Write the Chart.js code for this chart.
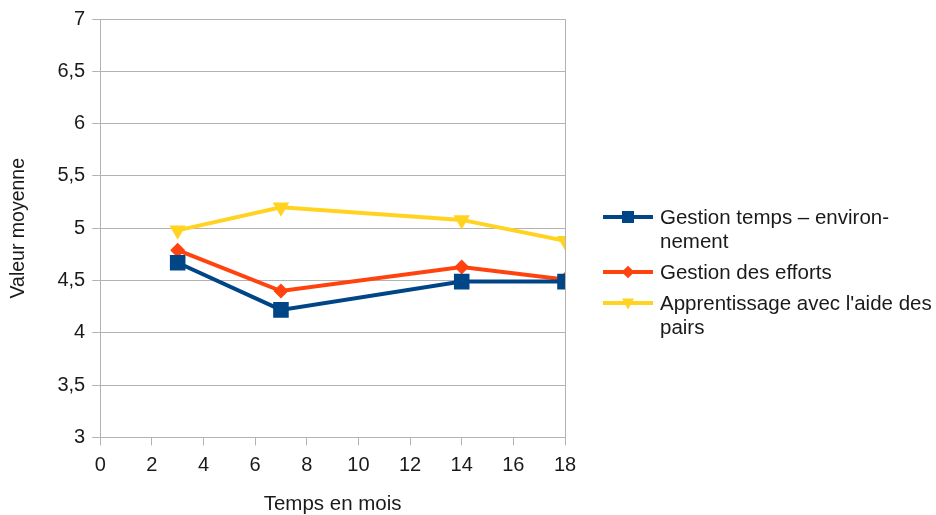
<!DOCTYPE html>
<html lang="fr">
<head>
<meta charset="utf-8">
<script src="https://cdn.jsdelivr.net/npm/chart.js@4/dist/chart.umd.min.js"></script>
<style>
  html, body { margin: 0; padding: 0; background: #fff; }
  #wrap { position: relative; width: 936px; height: 515px; }
  #legende { position: absolute; left: 603px; top: 205px; font-family: "Liberation Sans", Arial, sans-serif; font-size: 20.5px; color: #1a1a1a; }
  .item { display: flex; align-items: flex-start; margin-bottom: 7px; line-height: 24px; }
  .cle { position: relative; width: 50px; height: 24px; flex: none; margin-right: 7px; }
  .cle .trait { position: absolute; left: 0; right: 0; top: 10px; height: 4px; }
  .cle .marque { position: absolute; left: 25px; top: 12px; transform: translate(-50%, -50%); }
  .texte { white-space: nowrap; }
</style>
</head>
<body>
<div id="wrap">
  <canvas id="graphique" width="936" height="515"></canvas>
  <div id="legende"></div>
</div>
<script>
// ================= DONNÉES =================
const mois = [3, 7, 14, 18];
const series = [
  "Gestion temps – environ-nement",
  "Gestion des efforts",
  "Apprentissage avec l'aide des pairs"
];
// coupures de ligne de la légende (comme dans l'original)
const seriesLignes = [
  ["Gestion temps – environ-", "nement"],
  ["Gestion des efforts"],
  ["Apprentissage avec l'aide des", "pairs"]
];
const tempsEnvironnement = [4.67, 4.22, 4.49, 4.49];
const gestionEfforts = [4.79, 4.40, 4.63, 4.51];
const aidePairs = [4.98, 5.20, 5.08, 4.88];

const couleurs = ["#004586", "#ff420e", "#ffd320"];
const valeurs = [tempsEnvironnement, gestionEfforts, aidePairs];

const GRILLE = "#b3b3b3";
const TEXTE = "#1a1a1a";
const POLICE = "'Liberation Sans', Arial, sans-serif";

// ================= DATASETS =================
const styles = [
  { pointStyle: "rect", pointRadius: 11, rotation: 0 },
  { pointStyle: "rectRot", pointRadius: 7.5, rotation: 0 },
  { pointStyle: "triangle", pointRadius: 9.5, rotation: 180 }
];

const datasets = series.map((nom, i) => ({
  label: nom,
  data: mois.map((m, j) => ({ x: m, y: valeurs[i][j] })),
  borderColor: couleurs[i],
  backgroundColor: couleurs[i],
  borderWidth: 4,
  pointStyle: styles[i].pointStyle,
  pointRadius: styles[i].pointRadius,
  pointRotation: styles[i].rotation,
  pointBorderWidth: 0,
  pointHoverRadius: styles[i].pointRadius,
  tension: 0
}));

const formatFr = v => String(v).replace(".", ",");

new Chart(document.getElementById("graphique"), {
  type: "line",
  data: { datasets },
  options: {
    responsive: false,
    animation: false,
    layout: { padding: { left: 7, top: 15, right: 371, bottom: 0 } },
    plugins: { legend: { display: false }, tooltip: { enabled: false } },
    scales: {
      x: {
        type: "linear",
        min: 0,
        max: 18,
        ticks: { stepSize: 2, color: TEXTE, font: { family: POLICE, size: 20, lineHeight: 1.2 }, padding: 8 },
        grid: {
          color: c => (c.tick && c.tick.value === 18 ? GRILLE : "rgba(0,0,0,0)"),
          tickColor: GRILLE,
          tickLength: 8,
          lineWidth: 1
        },
        border: { color: GRILLE },
        title: { display: true, text: "Temps en mois", color: TEXTE, font: { family: POLICE, size: 20.5, lineHeight: 1 }, padding: { top: 9, bottom: 0 } }
      },
      y: {
        min: 3,
        max: 7,
        ticks: { stepSize: 0.5, color: TEXTE, font: { family: POLICE, size: 20 }, padding: 7, callback: v => formatFr(v) },
        grid: { color: GRILLE, tickColor: GRILLE, tickLength: 8 },
        border: { color: GRILLE },
        title: { display: true, text: "Valeur moyenne", color: TEXTE, font: { family: POLICE, size: 19.5, lineHeight: 1.2 }, padding: { top: 0, bottom: 20 } }
      }
    }
  }
});

// ================= LÉGENDE HTML =================
function marqueHTML(i) {
  const c = couleurs[i];
  if (i === 0) return `<div class="marque" style="width:12px;height:12px;background:${c}"></div>`;
  if (i === 1) return `<div class="marque" style="width:9px;height:9px;background:${c};transform:translate(-50%,-50%) rotate(45deg)"></div>`;
  return `<div class="marque" style="width:0;height:0;border-left:6px solid transparent;border-right:6px solid transparent;border-top:11px solid ${c};transform:translate(-50%,-40%)"></div>`;
}

document.getElementById("legende").innerHTML = seriesLignes.map((lignes, i) => `
  <div class="item">
    <div class="cle"><div class="trait" style="background:${couleurs[i]}"></div>${marqueHTML(i)}</div>
    <div class="texte">${lignes.join("<br>")}</div>
  </div>`).join("");
</script>
</body>
</html>
